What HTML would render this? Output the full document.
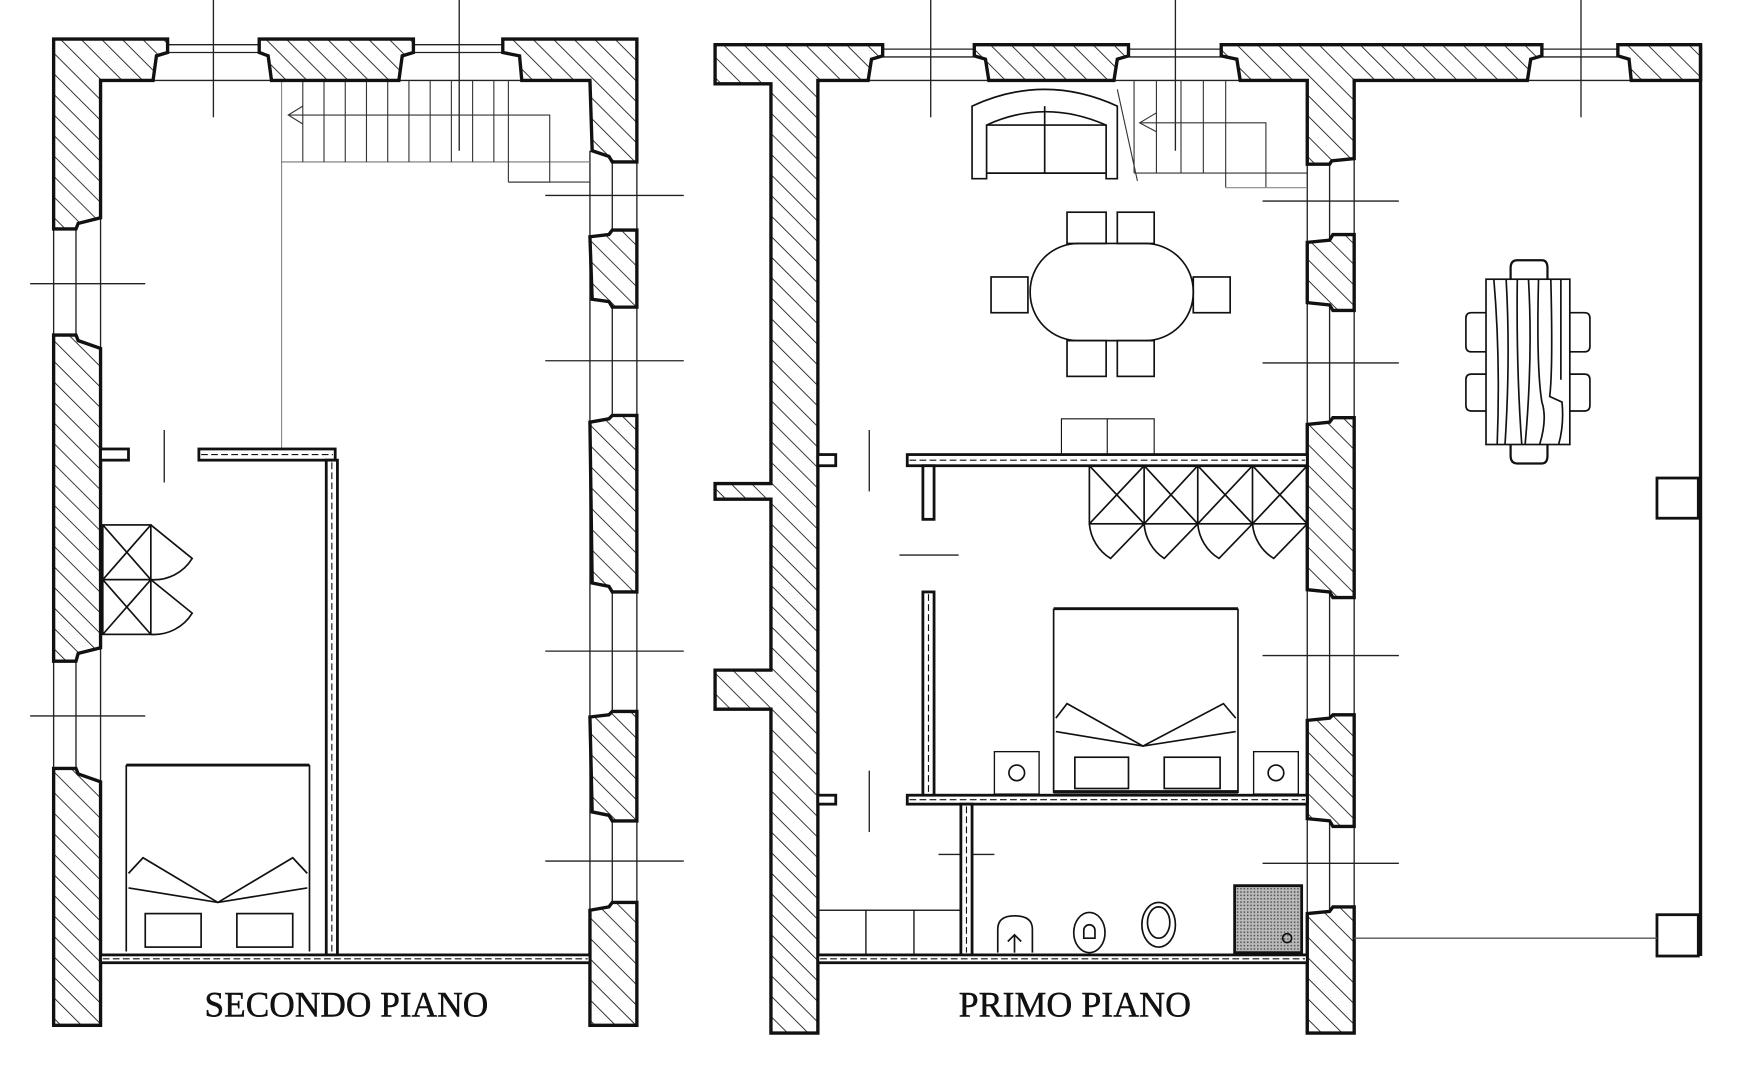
<!DOCTYPE html>
<html><head><meta charset="utf-8"><style>html,body{margin:0;padding:0;background:#fff}svg{display:block}</style></head>
<body>
<svg width="1743" height="1080" viewBox="0 0 1560 967" preserveAspectRatio="none" xmlns="http://www.w3.org/2000/svg">
<defs>
<pattern id="h" width="13" height="13" patternUnits="userSpaceOnUse" patternTransform="rotate(-45)">
<rect width="13" height="13" fill="#fff"/><line x1="0" y1="0" x2="0" y2="13" stroke="#222" stroke-width="1.6"/>
</pattern>
<pattern id="g" width="3" height="3" patternUnits="userSpaceOnUse"><rect width="3" height="3" fill="#bbb"/><rect width="1.4" height="1.4" fill="#555"/></pattern>
</defs>
<rect width="1560" height="967" fill="#fff"/>
<g fill="none" stroke="#222" stroke-width="1.2">
<line x1="191" y1="0" x2="191" y2="105"/><line x1="411" y1="0" x2="411" y2="135"/>
<line x1="27" y1="254" x2="130" y2="254"/><line x1="27" y1="641" x2="130" y2="641"/>
<line x1="488" y1="175" x2="612" y2="175"/><line x1="488" y1="323" x2="612" y2="323"/>
<line x1="488" y1="583" x2="612" y2="583"/><line x1="488" y1="771" x2="612" y2="771"/>
<line x1="147" y1="385" x2="147" y2="432"/>
<line x1="833" y1="0" x2="833" y2="105"/><line x1="1052" y1="0" x2="1052" y2="135"/><line x1="1415" y1="0" x2="1415" y2="105"/>
<line x1="1130" y1="180" x2="1252" y2="180"/><line x1="1130" y1="325" x2="1252" y2="325"/>
<line x1="1130" y1="587" x2="1252" y2="587"/><line x1="1130" y1="773" x2="1252" y2="773"/>
<line x1="778" y1="385" x2="778" y2="440"/><line x1="778" y1="690" x2="778" y2="745"/>
<line x1="805" y1="497" x2="858" y2="497"/><line x1="840" y1="765" x2="890" y2="765"/>
<line x1="150" y1="40" x2="232" y2="40"/><line x1="150" y1="47" x2="232" y2="47"/>
<line x1="370" y1="40" x2="450" y2="40"/><line x1="370" y1="47" x2="450" y2="47"/>
<line x1="137" y1="72" x2="243" y2="72"/><line x1="357" y1="72" x2="467" y2="72"/>
<line x1="790" y1="44" x2="872" y2="44"/><line x1="790" y1="51" x2="872" y2="51"/>
<line x1="1010" y1="44" x2="1093" y2="44"/><line x1="1010" y1="51" x2="1093" y2="51"/>
<line x1="1380" y1="44" x2="1448" y2="44"/><line x1="1380" y1="51" x2="1448" y2="51"/>
<line x1="777" y1="72" x2="885" y2="72"/><line x1="997" y1="72" x2="1110" y2="72"/><line x1="1367" y1="72" x2="1460" y2="72"/>
<line x1="48" y1="200" x2="48" y2="305"/><line x1="68" y1="200" x2="68" y2="305"/>
<line x1="48" y1="590" x2="48" y2="690"/><line x1="68" y1="590" x2="68" y2="690"/>
<line x1="90" y1="195" x2="90" y2="860"/>
<line x1="528" y1="135" x2="528" y2="860"/><line x1="548" y1="140" x2="548" y2="815"/><line x1="570" y1="140" x2="570" y2="815"/>
<line x1="1170" y1="140" x2="1170" y2="860"/><line x1="1190" y1="140" x2="1190" y2="815"/><line x1="1212" y1="140" x2="1212" y2="815"/>
</g>
<g fill="none" stroke="#333" stroke-width="1">
<line x1="252" y1="72" x2="252" y2="402" stroke="#888"/>
<line x1="252" y1="145" x2="528" y2="145" stroke="#777"/>
<g>
<line x1="271" y1="72" x2="271" y2="145"/><line x1="290" y1="72" x2="290" y2="145"/><line x1="309" y1="72" x2="309" y2="145"/><line x1="328" y1="72" x2="328" y2="145"/><line x1="347" y1="72" x2="347" y2="145"/><line x1="366" y1="72" x2="366" y2="145"/><line x1="385" y1="72" x2="385" y2="145"/><line x1="404" y1="72" x2="404" y2="145"/><line x1="423" y1="72" x2="423" y2="145"/><line x1="442" y1="72" x2="442" y2="145"/><line x1="455" y1="72" x2="455" y2="163"/>
</g>
<polyline points="258,103 492,103 492,163 455,163"/><line x1="455" y1="163" x2="528" y2="163"/>
<polyline points="271,95 258,103 271,111"/>
<line x1="1015" y1="155" x2="1170" y2="155"/>
<line x1="1035" y1="72" x2="1035" y2="155"/><line x1="1057" y1="72" x2="1057" y2="155"/><line x1="1077" y1="72" x2="1077" y2="155"/><line x1="1097" y1="72" x2="1097" y2="168"/><line x1="1015" y1="72" x2="1015" y2="155"/>
<polyline points="1020,110 1133,110 1133,168"/><line x1="1097" y1="168" x2="1170" y2="168" stroke="#888"/>
<polyline points="1035,101 1020,110 1035,118"/>
<line x1="1000" y1="80" x2="1018" y2="162"/>
</g>
<g fill="url(#h)" stroke="#111" stroke-width="3" stroke-linejoin="miter">
<path d="M48,35H150V47L140,50L137,72H90V195L70,200L68,205H48Z"/>
<path d="M232,35H370V47L360,50L357,72H243L240,50L232,47Z"/>
<path d="M450,35H570V145H548L545,140L530,135L528,72H467L465,50L450,47Z"/>
<path d="M48,300H68L70,305L90,312V580L70,585L68,592H48Z"/>
<path d="M48,688H68L70,693L90,700V918H48Z"/>
<path d="M528,212L545,210L548,206H570V275H548L545,270L530,268Z"/>
<path d="M528,378L545,375L548,372H570V530H548L545,525L530,522Z"/>
<path d="M528,642L545,640L548,637H570V735H548L545,730L530,727Z"/>
<path d="M528,815L545,812L548,808H570V918H528Z"/>
<path d="M640,40H790V50L780,53L777,72H732V925H690V635H640V600H690V447H640V433H690V75H640Z"/>
<path d="M872,40H1010V50L1000,53L997,72H885L882,53L872,50Z"/>
<path d="M1093,40H1380V50L1370,53L1367,72H1212V142L1192,144L1190,147H1170V72H1110L1107,53L1093,50Z"/>
<path d="M1448,40H1522V72H1460L1458,53L1448,50Z"/>
<path d="M1170,217L1190,215L1193,210H1212V278H1193L1190,273L1170,271Z"/>
<path d="M1170,380L1190,378L1193,374H1212V535H1193L1190,530L1170,528Z"/>
<path d="M1170,645L1190,643L1193,640H1212V740H1193L1190,735L1170,733Z"/>
<path d="M1170,818L1190,816L1193,812H1212V925H1170Z"/>
</g>
<g fill="#fff" stroke="#111">
<line x1="1522" y1="40" x2="1522" y2="856" stroke-width="3"/>
<rect x="1483" y="428" width="37" height="36" stroke-width="2.5"/>
<rect x="1483" y="819" width="37" height="37" stroke-width="2.5"/>
<line x1="1212" y1="840" x2="1483" y2="840" stroke="#555" stroke-width="1.2"/>
</g>
<g fill="#fff" stroke="#111" stroke-width="2.5">
<rect x="90" y="402" width="25" height="10"/><rect x="178" y="402" width="122" height="10"/>
<rect x="292" y="412" width="10" height="443"/><rect x="90" y="855" width="438" height="7"/>
<rect x="812" y="407" width="358" height="10"/><rect x="732" y="407" width="16" height="10"/>
<rect x="826" y="417" width="10" height="48"/><rect x="826" y="530" width="10" height="185"/>
<rect x="812" y="712" width="358" height="8"/><rect x="732" y="712" width="16" height="8"/>
<rect x="860" y="720" width="10" height="135"/><rect x="732" y="855" width="438" height="7"/>
</g>
<g stroke="#111" stroke-width="1" stroke-dasharray="6,3">
<line x1="180" y1="407" x2="298" y2="407"/><line x1="297" y1="414" x2="297" y2="853"/><line x1="92" y1="858.5" x2="526" y2="858.5"/>
<line x1="814" y1="412" x2="1168" y2="412"/><line x1="831" y1="532" x2="831" y2="713"/><line x1="814" y1="716" x2="1168" y2="716"/>
<line x1="865" y1="722" x2="865" y2="853"/><line x1="734" y1="858.5" x2="1168" y2="858.5"/>
</g>
<line x1="528" y1="862" x2="528" y2="918" stroke="#111" stroke-width="2.5"/>
<line x1="90" y1="862" x2="90" y2="918" stroke="#111" stroke-width="2.5"/>
<line x1="1170" y1="862" x2="1170" y2="925" stroke="#111" stroke-width="2.5"/>
<g fill="none" stroke="#111" stroke-width="1.5">
<rect x="92" y="470" width="43" height="98"/><line x1="92" y1="519" x2="135" y2="519"/>
<line x1="92" y1="470" x2="135" y2="519"/><line x1="135" y1="470" x2="92" y2="519"/>
<line x1="92" y1="519" x2="135" y2="568"/><line x1="135" y1="519" x2="92" y2="568"/>
<path d="M135,470L172,500A40,40 0 0 1 135,519" /><path d="M135,519L172,549A40,40 0 0 1 135,568"/>
<line x1="113" y1="685" x2="277" y2="685" stroke-width="2.5"/>
<line x1="113" y1="685" x2="113" y2="852"/><line x1="277" y1="685" x2="277" y2="852"/>
<polyline points="115,782 128,768 195,808 262,768 275,782"/><polyline points="115,795 195,808 275,795"/>
<rect x="130" y="818" width="50" height="30"/><rect x="212" y="818" width="50" height="30"/>
<path d="M870,160V95Q935,65 1000,95V160H990V112Q935,88 883,112V160Z"/>
<line x1="883" y1="112" x2="990" y2="112"/><line x1="883" y1="155" x2="990" y2="155"/><line x1="935" y1="95" x2="935" y2="155"/>
<rect x="922" y="218" width="146" height="87" rx="43"/>
<rect x="955" y="190" width="35" height="28"/><rect x="1000" y="190" width="33" height="28"/>
<rect x="955" y="305" width="35" height="32"/><rect x="1000" y="305" width="33" height="32"/>
<rect x="887" y="248" width="33" height="32"/><rect x="1068" y="248" width="33" height="32"/>
<rect x="950" y="375" width="83" height="32" stroke-width="1"/><line x1="991" y1="375" x2="991" y2="407" stroke-width="1"/>
<rect x="975" y="417" width="195" height="52"/>
<line x1="1024" y1="417" x2="1024" y2="469"/><line x1="1072" y1="417" x2="1072" y2="469"/><line x1="1121" y1="417" x2="1121" y2="469"/>
<path d="M975,417L1024,469M1024,417L975,469M1024,417L1072,469M1072,417L1024,469M1072,417L1121,469M1121,417L1072,469M1121,417L1170,469M1170,417L1121,469"/>
<path d="M1024,469L994,500A40,40 0 0 1 975,469M1072,469L1042,500A40,40 0 0 1 1024,469M1121,469L1091,500A40,40 0 0 1 1072,469M1170,469L1140,500A40,40 0 0 1 1121,469"/>
<line x1="943" y1="545" x2="1108" y2="545" stroke-width="2.5"/>
<line x1="943" y1="545" x2="943" y2="710"/><line x1="1108" y1="545" x2="1108" y2="710"/>
<polyline points="945,643 955,630 1023,668 1095,630 1106,643"/><polyline points="945,655 1023,668 1106,655"/>
<rect x="962" y="678" width="48" height="28"/><rect x="1042" y="678" width="50" height="28"/>
<line x1="943" y1="709" x2="1108" y2="709" stroke-width="3"/>
<rect x="890" y="673" width="40" height="38" stroke-width="1.2"/><circle cx="910" cy="692" r="7"/>
<rect x="1122" y="673" width="40" height="38" stroke-width="1.2"/><circle cx="1142" cy="692" r="7"/>
<rect x="732" y="815" width="128" height="40" stroke-width="1.2"/><line x1="775" y1="815" x2="775" y2="855" stroke-width="1.2"/><line x1="818" y1="815" x2="818" y2="855" stroke-width="1.2"/>
<path d="M893,853V832Q893,820 908,820Q924,820 924,832V853"/><line x1="908" y1="837" x2="908" y2="853"/><path d="M902,843L908,837L914,843"/>
<ellipse cx="975" cy="835" rx="14" ry="18"/><path d="M970,840V833A5,5 0 0 1 980,833V840Z"/>
<ellipse cx="1037" cy="828" rx="15" ry="20"/><ellipse cx="1037" cy="826" rx="10" ry="14"/>
<rect x="1105" y="793" width="60" height="60" fill="url(#g)" stroke-width="2.5"/><circle cx="1152" cy="840" r="4"/>
<rect x="1330" y="250" width="75" height="148"/>
<path d="M1337,250Q1343,320 1340,398M1348,250Q1352,320 1347,398M1358,250Q1357,330 1362,398M1368,250Q1372,320 1365,398M1377,250Q1375,330 1380,360Q1385,375 1378,398M1388,250Q1390,330 1387,355L1398,360Q1400,380 1395,398M1397,250V340"/>
<path d="M1352,250V240Q1352,233 1358,233H1380Q1385,233 1385,240V250" stroke-width="2"/>
<path d="M1352,398V408Q1352,415 1358,415H1380Q1385,415 1385,408V398" stroke-width="2"/>
<path d="M1330,280H1317Q1312,280 1312,285V310Q1312,315 1317,315H1330"/><path d="M1330,335H1317Q1312,335 1312,340V363Q1312,368 1317,368H1330"/>
<path d="M1405,280H1418Q1423,280 1423,285V310Q1423,315 1418,315H1405"/><path d="M1405,335H1418Q1423,335 1423,340V363Q1423,368 1418,368H1405"/>
</g>
<g font-family="'Liberation Serif', serif" font-size="32" fill="#111" stroke="#111" stroke-width="0.4">
<text x="183" y="910" textLength="254" lengthAdjust="spacingAndGlyphs">SECONDO PIANO</text>
<text x="858" y="910" textLength="208" lengthAdjust="spacingAndGlyphs">PRIMO PIANO</text>
</g>
</svg>
</body></html>
